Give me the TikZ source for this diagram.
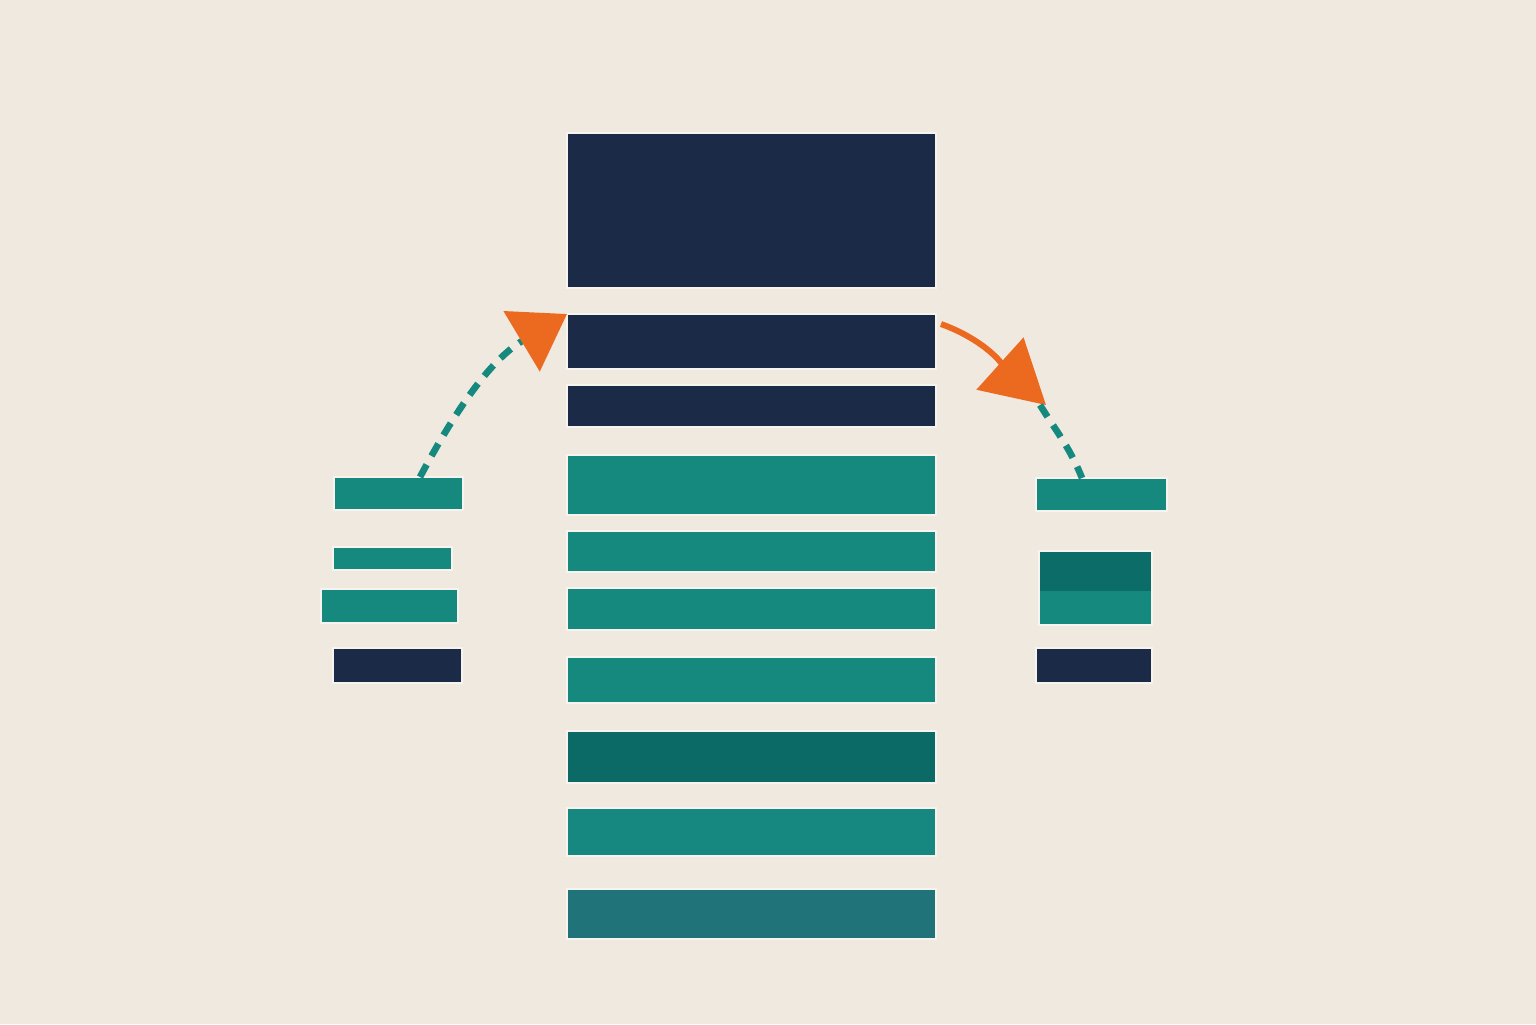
\documentclass[tikz,border=0pt]{standalone}
\usepackage{color}
\definecolor{mybg}{RGB}{240,233,224}
\definecolor{mynavy}{RGB}{27,43,71}
\definecolor{myteal}{RGB}{22,137,127}
\definecolor{mydarkteal}{RGB}{11,106,101}
\definecolor{mygrayteal}{RGB}{31,115,121}
\definecolor{myorange}{RGB}{236,106,32}
\usepackage{tikz}
\usetikzlibrary{arrows.meta,positioning,calc}
\tikzstyle{bar}=[draw=white!45!mybg,line width=0.4pt,rectangle,inner sep=0pt,outer sep=0pt,minimum width=3.69cm]
\tikzstyle{slot}=[draw=white!45!mybg,line width=0.4pt,rectangle,inner sep=0pt,outer sep=0pt]
\tikzstyle{hop}=[myteal,line width=1.9pt,dash pattern=on 0.14cm off 0.1cm]

\begin{document}
\begin{tikzpicture}
\fill [mybg] (0,0) rectangle (15.36,-10.24);
\useasboundingbox (0,0) rectangle (15.36,-10.24);

% middle column
\node [bar,fill=mynavy,minimum height=1.55cm] (c1) at (7.515,-2.105) {};
\node [bar,fill=mynavy,minimum height=0.55cm,below=0.26cm of c1] (c2) {};
\node [bar,fill=mynavy,minimum height=0.42cm,below=0.16cm of c2] (c3) {};
\node [bar,fill=myteal,minimum height=0.60cm,below=0.28cm of c3] (c4) {};
\node [bar,fill=myteal,minimum height=0.41cm,below=0.16cm of c4] (c5) {};
\node [bar,fill=myteal,minimum height=0.42cm,below=0.16cm of c5] (c6) {};
\node [bar,fill=myteal,minimum height=0.46cm,below=0.27cm of c6] (c7) {};
\node [bar,fill=mydarkteal,minimum height=0.52cm,below=0.28cm of c7] (c8) {};
\node [bar,fill=myteal!95!mygrayteal,minimum height=0.48cm,below=0.25cm of c8] (c9) {};
\node [bar,fill=mygrayteal,minimum height=0.50cm,below=0.33cm of c9] (c10) {};

% left stack
\node [slot,fill=myteal,minimum width=1.29cm,minimum height=0.33cm] (l1) at (3.985,-4.935) {};
\node [slot,fill=myteal,minimum width=1.19cm,minimum height=0.23cm] (l2) at (3.925,-5.585) {};
\node [slot,fill=myteal,minimum width=1.37cm,minimum height=0.34cm] (l3) at (3.895,-6.06) {};
\node [slot,fill=mynavy,minimum width=1.29cm,minimum height=0.35cm] (l4) at (3.975,-6.655) {};

% right stack
\node [slot,fill=myteal,minimum width=1.31cm,minimum height=0.33cm] (r1) at (11.015,-4.945) {};
\node [slot,draw=none,fill=mydarkteal!90!myteal,minimum width=1.13cm,minimum height=0.40cm] (r2) at (10.955,-5.71) {};
\node [slot,draw=none,fill=myteal,minimum width=1.13cm,minimum height=0.34cm,below=0cm of r2] (r3) {};
\draw [white!45!mybg,line width=0.4pt] (r2.north west) rectangle (r3.south east);
\node [slot,fill=mynavy,minimum width=1.16cm,minimum height=0.35cm] (r4) at (10.94,-6.655) {};

% moves
\draw [hop,-{Triangle[length=0.53cm,width=0.69cm,color=myorange]}]
  ([xshift=0.215cm]l1.north) to[out=62,in=211] (c2.north west);
\coordinate (drop) at (10.46,-4.05);
\draw [myorange,line width=1.7pt,-{Triangle[length=0.62cm,width=0.69cm]}]
  ([shift={(0.05cm,0.175cm)}]c2.east) to[out=-20,in=138] (drop);
\draw [hop] ([shift={(-0.06cm,0cm)}]drop) to[out=-58,in=112] ([xshift=-0.195cm]r1.north);
\end{tikzpicture}
\end{document}
